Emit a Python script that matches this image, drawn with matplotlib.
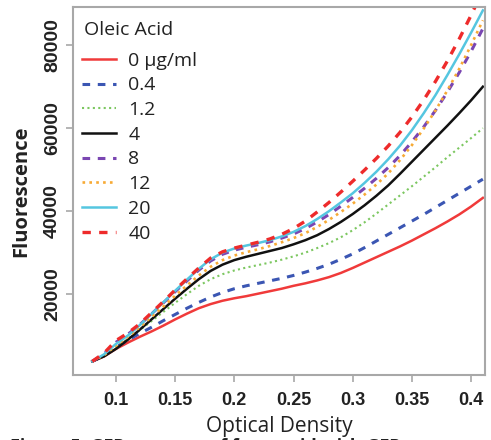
import matplotlib
matplotlib.use("Agg")
import matplotlib.pyplot as plt
import numpy as np

plt.rcParams['font.family'] = ['Open Sans', 'DejaVu Sans']

# optical density readings shared by every culture
od = [0.08, 0.09, 0.10, 0.11, 0.12, 0.13, 0.14, 0.15, 0.16, 0.17, 0.18, 0.19,
      0.20, 0.21, 0.22, 0.23, 0.24, 0.25, 0.26, 0.27, 0.28, 0.29, 0.30, 0.31,
      0.32, 0.33, 0.34, 0.35, 0.36, 0.37, 0.38, 0.39, 0.40, 0.41]

# fluorescence per oleic acid concentration
f_0   = [3800, 5000, 6800, 8300, 9700, 11000, 12400, 13900, 15300, 16600, 17600, 18400,
         19000, 19500, 20100, 20700, 21300, 22000, 22600, 23300, 24100, 25100, 26300, 27600,
         28900, 30200, 31500, 32900, 34400, 35900, 37500, 39200, 41100, 43200]
f_0_4 = [3800, 5200, 7200, 8900, 10500, 12000, 13600, 15100, 16600, 18000, 19300, 20400,
         21300, 22000, 22600, 23200, 23800, 24500, 25300, 26200, 27200, 28400, 29700, 31200,
         32800, 34400, 36000, 37600, 39200, 40900, 42600, 44300, 46000, 47700]
f_1_2 = [3800, 5200, 7200, 9200, 11300, 13500, 15700, 17900, 20000, 22000, 23600, 24800,
         25700, 26400, 27000, 27600, 28300, 29100, 30000, 31100, 32300, 33700, 35400, 37300,
         39400, 41600, 43800, 46000, 48300, 50600, 53000, 55300, 57600, 60000]
f_4   = [3800, 5000, 6800, 9000, 11400, 13900, 16400, 18900, 21300, 23600, 25600, 27100,
         28200, 29000, 29700, 30400, 31100, 32000, 33000, 34200, 35700, 37400, 39300, 41400,
         43700, 46200, 49000, 51900, 54800, 57700, 60600, 63600, 66700, 70000]
f_8   = [3800, 5600, 8400, 10300, 12600, 15200, 17900, 20600, 23200, 25800, 28000, 29600,
         30600, 31300, 31900, 32600, 33500, 34500, 35800, 37400, 39200, 41200, 43300, 45500,
         47900, 50500, 53400, 56700, 60300, 64300, 68700, 73400, 78500, 84000]
f_12  = [3800, 5300, 7600, 9700, 12000, 14500, 17000, 19600, 22100, 24500, 26600, 28200,
         29300, 30100, 30800, 31600, 32500, 33500, 34700, 36200, 37900, 39800, 41800, 44000,
         46400, 49100, 52300, 55900, 59900, 64300, 69100, 74300, 80000, 86000]
f_20  = [3800, 5500, 8000, 10000, 12500, 15200, 18000, 20800, 23500, 26100, 28400, 30000,
         31000, 31700, 32300, 33000, 33900, 35000, 36400, 38100, 40000, 42100, 44300, 46800,
         49500, 52500, 55800, 59500, 63600, 68000, 72800, 77800, 83000, 88400]
f_40  = [3800, 5800, 8800, 10600, 12800, 15500, 18200, 21000, 23700, 26300, 28700, 30200,
         31100, 31800, 32500, 33300, 34400, 35800, 37600, 39800, 42100, 44600, 47200, 49900,
         52700, 55700, 59000, 62700, 66800, 71300, 76200, 81500, 87200, 93200]

labels = ['0 \u00b5g/ml', '0.4', '1.2', '4', '8', '12', '20', '40']
series = [f_0, f_0_4, f_1_2, f_4, f_8, f_12, f_20, f_40]
colors = ['#f03a3a', '#3b56b3', '#7cc760', '#111111',
          '#7a46b2', '#f7aa35', '#55c6e0', '#ee2b2b']
styles = ['-', (0, (2.5, 2.5)), (0, (1, 1.6)), '-',
          (0, (2.5, 2.5)), (0, (1, 1.6)), '-', (0, (2.5, 2.5))]
widths = [1.8, 2.2, 1.5, 1.8, 2.2, 1.9, 1.8, 2.4]

fig = plt.figure(figsize=(4.91, 4.40), dpi=100)
ax = fig.add_axes([0.1487, 0.1477, 0.8391, 0.8363])

for ys, lab, c, ls, lw in zip(series, labels, colors, styles, widths):
    ax.plot(od, ys, color=c, linestyle=ls, linewidth=lw, label=lab)

ax.set_xlim(0.0637, 0.4118)
ax.set_ylim(500, 89200)

ax.set_xticks([0.1, 0.15, 0.2, 0.25, 0.3, 0.35, 0.4])
ax.set_xticklabels(['0.1', '0.15', '0.2', '0.25', '0.3', '0.35', '0.4'])
ax.set_yticks([20000, 40000, 60000, 80000])
ax.set_yticklabels(['20000', '40000', '60000', '80000'], rotation=90, va='center')

for s in ax.spines.values():
    s.set_color('#a8a8a8')
    s.set_linewidth(1.5)
ax.tick_params(colors='#a8a8a8', length=5, width=1.2, labelcolor='#222222',
               labelsize=13)
ax.tick_params(axis='x', pad=7)
ax.tick_params(axis='y', labelsize=14)
for t in ax.get_xticklabels() + ax.get_yticklabels():
    t.set_fontfamily(['Liberation Sans', 'DejaVu Sans'])
    t.set_fontweight('bold')

ax.set_xlabel('Optical Density', fontsize=15, color='#222222', labelpad=5)
ax.set_ylabel('Fluorescence', fontsize=14.5, fontweight='bold', color='#222222',
              labelpad=9)

# legend heading sits apart from the entries
ax.text(0.027, 0.938, 'Oleic Acid', transform=ax.transAxes, fontsize=14,
        color='#222222', ha='left', va='center')
leg = ax.legend(loc='upper left', bbox_to_anchor=(0.004, 0.9), frameon=False,
                fontsize=14, handlelength=1.75, handletextpad=0.6,
                labelspacing=0.345, borderaxespad=0.0)
for t in leg.get_texts():
    t.set_color('#222222')

# caption line running off the lower edge
fig.text(0.02, 0.004, 'Figure 5. GFP reporter of fatty acid with GFP',
         fontsize=13, fontweight='bold', va='top', color='#222222')

fig.savefig('out.png', dpi=100)
